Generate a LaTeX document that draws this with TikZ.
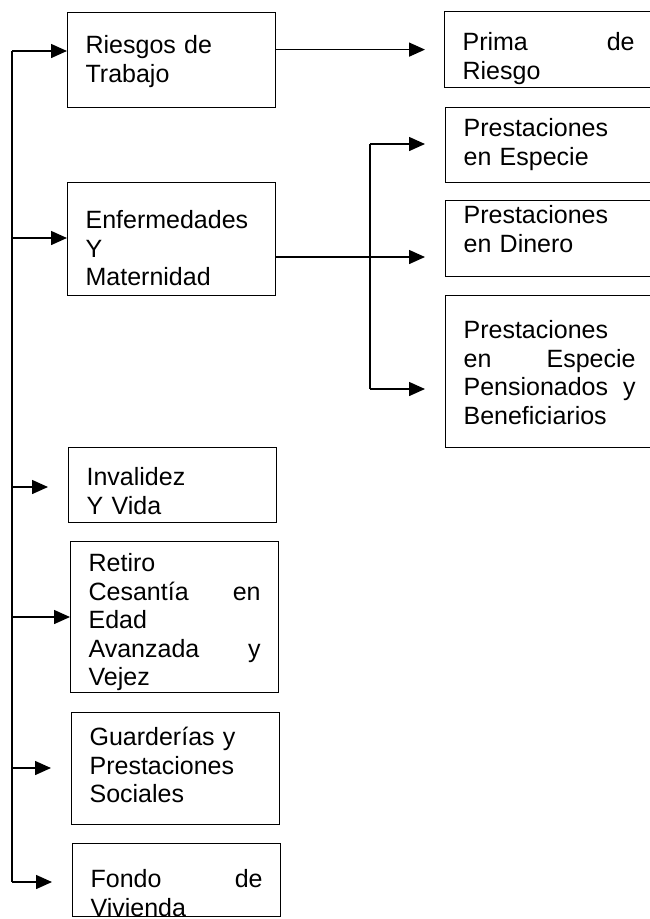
\documentclass[tikz,border=0pt]{standalone}
\usepackage{fontspec}
\setmainfont{Liberation Sans}
\usetikzlibrary{arrows.meta}
\tikzset{
    caja/.style={draw, line width=1.2pt, anchor=north west, inner xsep=18pt, inner ysep=0pt,
        text width=172pt, align=left, font=\fontsize{25}{28.5}\selectfont},
    flecha/.style={line width=1.5pt, -{Triangle[length=16pt,width=14pt]}},
    linea/.style={line width=1.5pt}
}
\begin{document}
\begin{tikzpicture}[x=1pt, y=-1pt]
                \useasboundingbox (0,0) rectangle (650,919);

                \node[caja, text height=41, text depth=54] (riesgos) at (67,12) {Riesgos de\\Trabajo};
                \node[caja, text height=46, text depth=67] (enfermedades) at (67,182) {Enfermedades\\Y\\Maternidad};
                \node[caja, text height=38, text depth=37] (invalidez) at (68,447) {Invalidez\\Y Vida};
                \node[caja, text height=30, text depth=121] (retiro) at (70,541)
                    {Retiro\\Cesantía\hfill en\\Edad\\Avanzada\hfill y\\Vejez};
                \node[caja, text height=33, text depth=79] (guarderias) at (71,712)
                    {Guarderías y\\Prestaciones\\Sociales};
                \node[caja, text height=44, text depth=29] (fondo) at (72,843) {Fondo\hfill de\\Vivienda};

                \node[caja, text height=39, text depth=37] (prima) at (444,11) {Prima\hfill de\\Riesgo};
                \node[caja, text height=29, text depth=46] (especie) at (445,107) {Prestaciones\\en Especie};
                \node[caja, text height=23, text depth=53] (dinero) at (445,200) {Prestaciones\\en Dinero};
                \node[caja, text height=43, text depth=109] (pensionados) at (445,295)
                    {Prestaciones\\en\hfill Especie\\Pensionados\hfill y\\Beneficiarios};

                \coordinate (arriba) at (12,51);
                \coordinate (abajo) at (12,882);
                \draw[linea] (arriba) -- (abajo);
                \foreach \caja/\y/\hueco in {riesgos/51/0, enfermedades/238/0, invalidez/487/20,
                        retiro/617/0, guarderias/768/20, fondo/882/20}
                    \draw[flecha, shorten >=\hueco] (arriba |- 0,\y) -- (\caja.west |- 0,\y);

                \draw[flecha, shorten >=19] (riesgos.east |- prima.west) -- (prima.west);

                \coordinate (rama) at (370,257);
                \coordinate (rama1) at (370,144);
                \coordinate (rama2) at (370,389);
                \draw[flecha, shorten >=20] (enfermedades.east |- rama) -- (dinero.west |- rama);
                \draw[linea] (rama1) -- (rama2);
                \draw[flecha, shorten >=20] (rama1) -- (especie.west |- rama1);
                \draw[flecha, shorten >=20] (rama2) -- (pensionados.west |- rama2);
            \end{tikzpicture}
\end{document}
